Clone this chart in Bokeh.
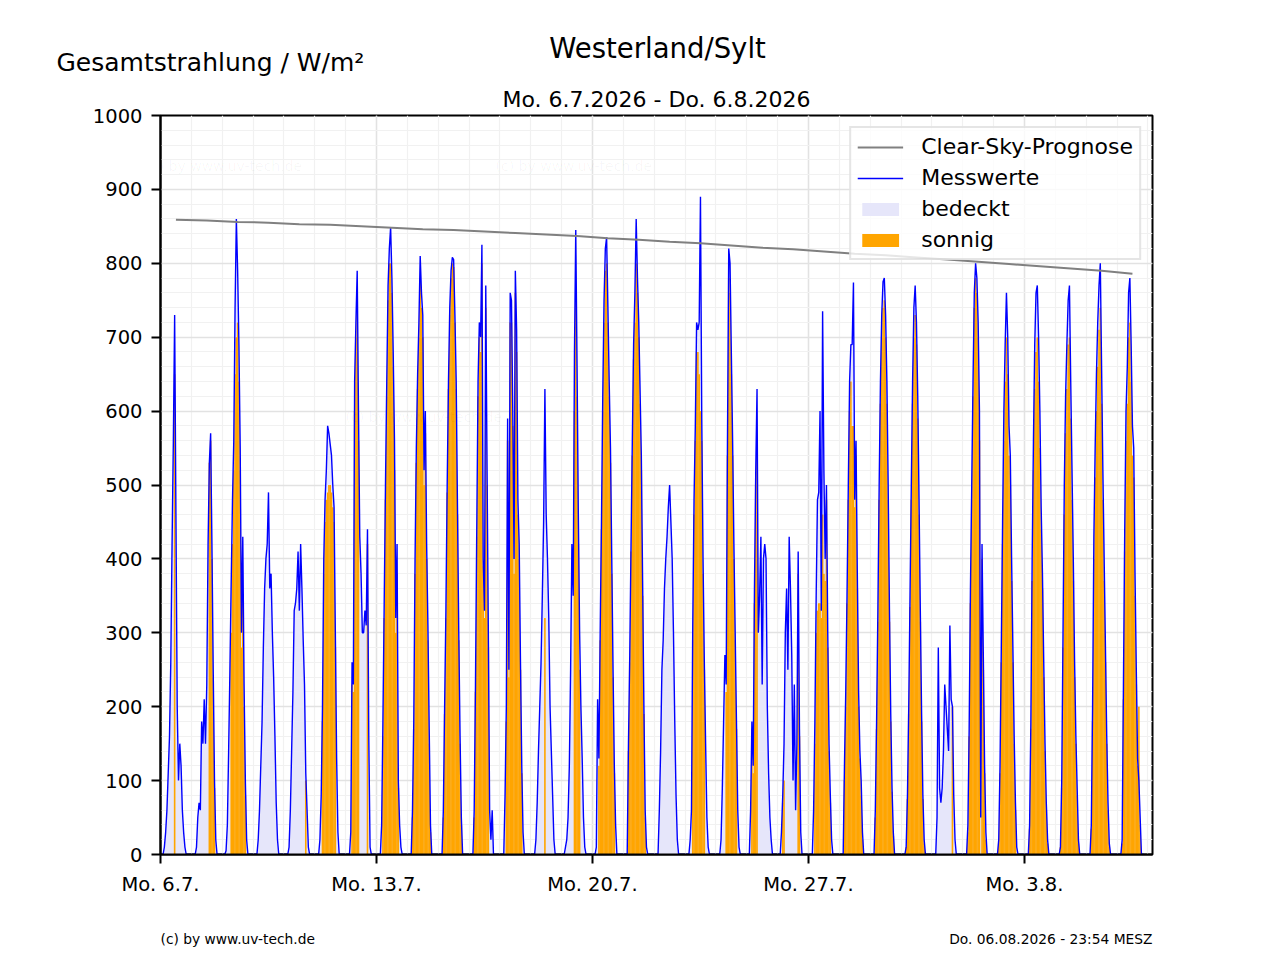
from bokeh.plotting import figure
from bokeh.layouts import column
from bokeh.models import FixedTicker, Label, Legend, LegendItem, Range1d, Title
from bokeh.embed import file_html
from bokeh.resources import INLINE

# Stundenwerte je Tag, 3 Uhr bis 20 Uhr (Achsenzeit)
stunden = list(range(3, 21))

# Messwerte W/m2, ein Tag pro Zeile
mess_woche1 = [
    [10, 30, 60, 110, 160, 260, 420, 560, 730, 460, 200, 100, 150, 120, 60, 30, 10, 0],   # Mo 6.7.
    [0, 10, 50, 70, 60, 180, 150, 210, 150, 230, 420, 530, 570, 420, 250, 100, 20, 0],
    [5, 40, 140, 250, 370, 480, 560, 740, 860, 790, 690, 550, 300, 430, 230, 100, 20, 0],
    [0, 20, 60, 120, 180, 280, 360, 400, 420, 490, 360, 380, 300, 240, 160, 70, 20, 0],
    [0, 10, 60, 140, 220, 330, 340, 360, 410, 330, 420, 360, 290, 230, 110, 60, 10, 0],
    [0, 20, 80, 200, 400, 480, 520, 580, 570, 555, 540, 500, 470, 300, 130, 30, 0, 0],
    [0, 30, 260, 230, 640, 720, 790, 600, 430, 380, 300, 300, 330, 310, 440, 160, 10, 0],
]
mess_woche2 = [
    [0, 40, 180, 340, 500, 640, 770, 820, 849, 780, 680, 560, 320, 420, 100, 40, 10, 0],  # Mo 13.7.
    [0, 60, 180, 400, 550, 650, 720, 810, 760, 730, 520, 600, 420, 310, 170, 40, 0, 0],
    [0, 60, 200, 330, 500, 640, 740, 790, 808, 805, 730, 640, 470, 300, 160, 50, 0, 0],
    [0, 60, 230, 440, 640, 720, 700, 825, 400, 330, 770, 520, 300, 60, 20, 60, 0, 0],
    [0, 80, 200, 590, 250, 760, 750, 600, 400, 790, 710, 480, 420, 260, 120, 30, 0, 0],
    [0, 20, 70, 140, 200, 260, 350, 450, 630, 460, 400, 320, 200, 140, 80, 20, 0, 0],
    [10, 20, 50, 120, 250, 420, 350, 680, 845, 660, 460, 300, 200, 130, 50, 10, 0, 0],
]
mess_woche3 = [
    [10, 210, 130, 300, 450, 620, 750, 820, 835, 740, 640, 550, 400, 250, 120, 40, 0, 0],  # Mo 20.7.
    [0, 150, 270, 420, 560, 690, 760, 860, 780, 720, 630, 540, 370, 200, 60, 10, 0, 0],
    [0, 60, 140, 250, 290, 360, 400, 430, 470, 500, 450, 400, 300, 180, 80, 20, 0, 0],
    [0, 20, 60, 310, 480, 580, 720, 710, 720, 890, 590, 400, 260, 150, 50, 10, 0, 0],
    [0, 20, 90, 180, 270, 230, 560, 820, 800, 680, 560, 420, 300, 180, 60, 10, 0, 0],
    [60, 180, 120, 360, 520, 630, 300, 350, 430, 230, 400, 420, 400, 200, 110, 50, 20, 0],
    [30, 80, 150, 300, 360, 250, 430, 360, 270, 100, 230, 60, 150, 410, 170, 30, 0, 0],
]
mess_woche4 = [
    [0, 60, 180, 350, 480, 490, 600, 330, 735, 520, 400, 500, 300, 150, 80, 20, 0, 0],  # Mo 27.7.
    [0, 120, 220, 350, 500, 640, 690, 690, 774, 480, 560, 380, 220, 140, 100, 30, 0, 0],
    [0, 60, 180, 330, 500, 640, 730, 775, 780, 730, 640, 500, 330, 190, 90, 30, 0, 0],
    [0, 10, 80, 200, 350, 500, 640, 740, 770, 720, 620, 480, 330, 190, 80, 20, 0, 0],
    [0, 50, 280, 90, 70, 90, 140, 230, 200, 170, 140, 310, 210, 200, 80, 20, 0, 0],
    [0, 40, 170, 360, 500, 640, 760, 800, 780, 720, 600, 50, 420, 270, 120, 30, 0, 0],
    [0, 20, 120, 280, 450, 600, 690, 760, 700, 580, 540, 400, 280, 160, 70, 10, 0, 0],
]
mess_woche5 = [
    [0, 40, 180, 400, 560, 690, 760, 770, 700, 600, 470, 380, 260, 150, 70, 20, 0, 0],  # Mo 3.8.
    [0, 10, 100, 300, 500, 620, 690, 750, 770, 640, 520, 400, 260, 160, 90, 20, 0, 0],
    [0, 40, 200, 430, 550, 650, 720, 770, 800, 660, 520, 400, 280, 160, 70, 15, 0, 0],
    [0, 20, 230, 440, 600, 660, 760, 780, 690, 580, 550, 380, 250, 130, 100, 50, 0, 0],
]

# Anteil "sonnig" (0 = bedeckt)
sonne_woche1 = [
    [0, 0, 0, 0, 0, 0, 0, 0, 650, 0, 0, 0, 0, 0, 0, 0, 0, 0],
    [0, 0, 0, 0, 0, 0, 0, 0, 0, 0, 0, 530, 560, 400, 240, 90, 0, 0],
    [0, 0, 0, 0, 300, 420, 520, 650, 700, 720, 640, 520, 280, 350, 200, 80, 0, 0],
    [0, 0, 0, 0, 0, 0, 0, 0, 0, 0, 0, 0, 0, 0, 0, 0, 0, 0],
    [0, 0, 0, 0, 0, 0, 0, 0, 0, 0, 0, 0, 0, 0, 100, 0, 0, 0],
    [0, 0, 0, 180, 380, 450, 480, 490, 500, 500, 490, 470, 450, 280, 0, 0, 0, 0],
    [0, 0, 230, 220, 600, 700, 740, 560, 0, 0, 0, 0, 0, 0, 420, 0, 0, 0],
]
sonne_woche2 = [
    [0, 0, 160, 320, 480, 620, 750, 800, 800, 760, 660, 520, 300, 380, 90, 0, 0, 0],
    [0, 50, 170, 380, 530, 630, 700, 780, 740, 700, 500, 570, 400, 290, 150, 30, 0, 0],
    [0, 50, 190, 320, 490, 630, 730, 780, 800, 795, 720, 630, 460, 290, 150, 40, 0, 0],
    [0, 50, 220, 430, 620, 700, 680, 800, 390, 320, 740, 500, 280, 0, 0, 0, 0, 0],
    [0, 0, 180, 560, 240, 720, 720, 580, 380, 760, 680, 460, 400, 250, 110, 0, 0, 0],
    [0, 0, 0, 0, 0, 0, 0, 0, 320, 0, 0, 0, 0, 0, 0, 0, 0, 0],
    [0, 0, 0, 0, 0, 0, 0, 600, 760, 620, 420, 250, 0, 0, 0, 0, 0, 0],
]
sonne_woche3 = [
    [0, 0, 120, 290, 440, 600, 720, 790, 800, 720, 620, 530, 380, 240, 110, 0, 0, 0],
    [0, 140, 260, 410, 540, 670, 720, 800, 760, 700, 610, 520, 350, 190, 50, 0, 0, 0],
    [0, 0, 0, 0, 0, 0, 0, 0, 0, 0, 0, 0, 0, 0, 0, 0, 0, 0],
    [0, 0, 0, 290, 460, 560, 680, 680, 650, 600, 560, 380, 250, 0, 0, 0, 0, 0],
    [0, 0, 0, 0, 0, 220, 540, 780, 760, 650, 540, 400, 290, 170, 0, 0, 0, 0],
    [0, 170, 110, 340, 500, 560, 0, 0, 0, 0, 0, 0, 0, 0, 0, 0, 0, 0],
    [0, 70, 100, 0, 0, 0, 0, 0, 0, 0, 0, 0, 0, 380, 160, 0, 0, 0],
]
sonne_woche4 = [
    [0, 0, 150, 300, 330, 340, 340, 320, 460, 380, 370, 480, 280, 140, 70, 0, 0, 0],
    [0, 100, 200, 340, 480, 600, 640, 580, 580, 470, 540, 360, 200, 130, 80, 20, 0, 0],
    [0, 50, 170, 315, 480, 610, 700, 740, 750, 700, 610, 480, 315, 180, 85, 25, 0, 0],
    [0, 10, 75, 190, 335, 480, 610, 700, 730, 690, 590, 460, 315, 180, 75, 15, 0, 0],
    [0, 0, 0, 0, 0, 0, 0, 0, 0, 0, 0, 0, 0, 200, 0, 0, 0, 0],
    [0, 30, 160, 340, 480, 620, 740, 780, 760, 700, 560, 0, 400, 250, 110, 20, 0, 0],
    [0, 15, 110, 260, 420, 560, 640, 700, 650, 540, 500, 370, 260, 150, 60, 0, 0, 0],
]
sonne_woche5 = [
    [0, 35, 170, 370, 520, 630, 680, 700, 640, 550, 440, 360, 240, 140, 60, 15, 0, 0],
    [0, 10, 90, 280, 460, 570, 630, 690, 700, 590, 480, 370, 240, 150, 80, 15, 0, 0],
    [0, 35, 180, 400, 510, 600, 660, 710, 740, 610, 480, 370, 260, 150, 60, 10, 0, 0],
    [0, 15, 210, 410, 560, 610, 700, 720, 640, 540, 510, 350, 230, 120, 200, 40, 0, 0],
]

# Clear-Sky-Prognose, Tagesmaximum (Mittag)
clear_sky = [859, 858, 856, 855, 853, 852, 850, 848, 846, 845, 843, 841, 839, 837,
             834, 832, 829, 827, 824, 821, 819, 816, 813, 811, 808, 805, 802, 799,
             796, 793, 790, 786]

tick_tage = [0, 7, 14, 21, 28]
tick_labels = ["Mo. 6.7.", "Mo. 13.7.", "Mo. 20.7.", "Mo. 27.7.", "Mo. 3.8."]

mess = mess_woche1 + mess_woche2 + mess_woche3 + mess_woche4 + mess_woche5
sonne = sonne_woche1 + sonne_woche2 + sonne_woche3 + sonne_woche4 + sonne_woche5

t, werte, t_sonne, werte_sonne = [], [], [], []
for tag, (tag_mess, tag_sonne) in enumerate(zip(mess, sonne)):
    # nachts 0 W/m2
    t.append(tag + 2 / 24)
    werte.append(0)
    for h, m, s in zip(stunden, tag_mess, tag_sonne):
        t.append(tag + h / 24)
        werte.append(m)
        if s > 0:
            t_sonne.append(tag + h / 24)
            werte_sonne.append(s)
    t.append(tag + 21 / 24)
    werte.append(0)
t_clear = [tag + 0.5 for tag in range(len(clear_sky))]

FONT = "DejaVu Sans"
W = 1264


def text_panel(hoehe):
    f = figure(width=W, height=hoehe, x_range=Range1d(0, W), y_range=Range1d(hoehe, 0),
               x_axis_type=None, y_axis_type=None, output_backend="svg",
               toolbar_location=None, min_border=0, title=None)
    if "frame_align" in f.properties():
        f.frame_align = False
    f.outline_line_color = None
    f.background_fill_color = "white"
    f.border_fill_color = "white"
    return f


def schreibe(f, txt, x, y, size, align="left"):
    # y = Mitte der Schrift
    f.add_layout(Label(x=x, y=y, text=txt, text_font=FONT, text_font_size=size,
                       text_align=align, text_baseline="middle", text_color="black"))


# Kopfzeile
kopf = text_panel(78)
schreibe(kopf, "Westerland/Sylt", 657, 47.5, "27.5px", "center")
schreibe(kopf, "Gesamtstrahlung / W/m\u00b2", 56, 61.5, "25px")

# Diagramm
p = figure(width=W, height=822, x_range=Range1d(0, 32.15), y_range=Range1d(0, 1000),
           output_backend="svg", toolbar_location=None,
           min_border_left=160, min_border_right=112, min_border_top=37, min_border_bottom=46)
p.title = Title(text="Mo. 6.7.2026 - Do. 6.8.2026", align="center", text_font=FONT,
                text_font_size="22px", text_font_style="normal", text_color="black",
                standoff=8)
p.background_fill_color = "white"
p.border_fill_color = "white"
p.outline_line_color = "black"
p.outline_line_width = 2

p.xaxis.ticker = FixedTicker(ticks=tick_tage, minor_ticks=list(range(0, 33)))
p.xaxis.major_label_overrides = dict(zip(tick_tage, tick_labels))
p.yaxis.ticker = FixedTicker(ticks=list(range(0, 1001, 100)), minor_ticks=list(range(0, 1001, 20)))

for ax in (p.xaxis, p.yaxis):
    ax.axis_line_color = "black"
    ax.axis_line_width = 2
    ax.major_tick_out = 9
    ax.major_tick_in = 0
    ax.major_tick_line_width = 2
    ax.minor_tick_line_color = None
    ax.major_label_text_font = FONT
    ax.major_label_text_font_size = "19.5px"
    ax.major_label_text_color = "black"
    ax.major_label_standoff = 9

for g in (p.xgrid, p.ygrid):
    g.grid_line_color = "#e2e2e2"
    g.grid_line_width = 1.5
    g.minor_grid_line_color = "#f1f1f1"
    g.minor_grid_line_width = 1.2

r_bedeckt = p.varea(x=t, y1=0, y2=werte, fill_color="#e6e6fa")
r_sonnig = p.vbar(x=t_sonne, top=werte_sonne, width=1.25 / 24, fill_color="orange", line_color=None)
r_mess = p.line(t, werte, line_color="blue", line_width=1.4)
r_clear = p.line(t_clear, clear_sky, line_color="grey", line_width=2)

legend = Legend(items=[
    LegendItem(label="Clear-Sky-Prognose", renderers=[r_clear]),
    LegendItem(label="Messwerte", renderers=[r_mess]),
    LegendItem(label="bedeckt", renderers=[r_bedeckt]),
    LegendItem(label="sonnig", renderers=[r_sonnig]),
], location="top_right")
legend.margin = 11
legend.padding = 6
legend.spacing = 6
legend.label_height = 25
legend.glyph_height = 16
legend.glyph_width = 46
legend.label_standoff = 18
legend.label_text_font = FONT
legend.label_text_font_size = "22px"
legend.label_text_color = "black"
legend.border_line_color = "#cccccc"
legend.border_line_width = 2
legend.background_fill_alpha = 0.8
p.add_layout(legend)

# Wasserzeichen
for sx, sy in [(-15, 689), (335, 689), (185, 438)]:
    p.add_layout(Label(x=sx, y=sy, x_units="screen", y_units="screen",
                       text="(c) by www.uv-tech.de", text_font=FONT, text_font_size="14px",
                       text_baseline="middle", text_color="black", text_alpha=0.035))

# Fusszeile
fuss = text_panel(50)
schreibe(fuss, "(c) by www.uv-tech.de", 160, 38, "13.8px")
schreibe(fuss, "Do. 06.08.2026 - 23:54 MESZ", 1152, 38, "13.8px", "right")

seite = column(kopf, p, fuss, spacing=0)
open("out.html", "w").write(file_html(seite, INLINE))
